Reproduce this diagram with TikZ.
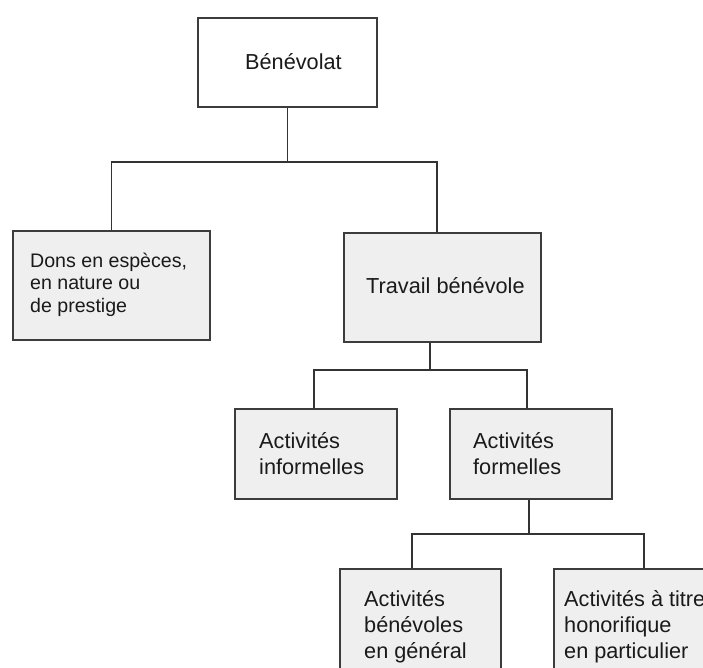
\documentclass[tikz,border=0pt]{standalone}
\usepackage{fontspec}
\setmainfont{Liberation Sans}
\definecolor{boxline}{HTML}{3C3C3C}
\definecolor{boxfill}{HTML}{EFEFEF}
\definecolor{wirecol}{HTML}{333333}
\definecolor{inkcol}{HTML}{1A1A1A}
\newcommand\boxtext[1]{\parbox[t]{220pt}{\raggedright #1}}
\tikzset{
  box/.style={draw=boxline, line width=1.5pt, fill=boxfill, inner sep=0pt, rectangle},
  topbox/.style={box, fill=white},
  wire/.style={draw=wirecol, line width=1.5pt},
  txt/.style={anchor=base west, inner sep=0pt, text=inkcol, font=\fontsize{21.7}{26}\selectfont},
  smalltxt/.style={anchor=base west, inner sep=0pt, text=inkcol, font=\fontsize{19.6}{22.7}\selectfont},
}
\begin{document}
\begin{tikzpicture}[x=1pt,y=-1pt]
\useasboundingbox (0,0) rectangle (703,668);
\clip (0,0) rectangle (703,668);
\fill[white] (0,0) rectangle (703,668);
% boxes
\node[topbox, minimum width=179pt, minimum height=89pt] (ben) at (287.5,62.5) {};
\node[box, minimum width=197pt, minimum height=109pt] (dons) at (111.5,285.5) {};
\node[box, minimum width=197pt, minimum height=109pt] (trav) at (442.5,287.5) {};
\node[box, minimum width=162pt, minimum height=90pt] (inf) at (316,454) {};
\node[box, minimum width=162pt, minimum height=90pt] (form) at (531,454) {};
\node[box, minimum width=161pt, minimum height=131pt] (gen) at (420.5,634.5) {};
\node[box, minimum width=161pt, minimum height=131pt] (hon) at (634.5,634.5) {};
% texts
\node[txt] (tben) at (245,70) {Bénévolat};
\node[smalltxt] (tdons) at (30,267) {\boxtext{Dons en espèces,\\en nature ou\\de prestige}};
\node[txt] (ttrav) at (366,293) {Travail bénévole};
\node[txt] (tinf) at (259,448) {\boxtext{Activités\\informelles}};
\node[txt] (tform) at (473,448) {\boxtext{Activités\\formelles}};
\node[txt] (tgen) at (364,606) {\boxtext{Activités\\bénévoles\\en général}};
\node[txt] (thon) at (564,606) {\boxtext{Activités à titre\\honorifique\\en particulier}};
% connectors
\coordinate (bus1) at (287.5,162);
\coordinate (bus2) at (430,370);
\coordinate (bus3) at (529,534);
\draw[wire] (ben.south) -- (bus1);
\draw[wire] (dons.north) |- (bus1) -| ([xshift=-5.5pt]trav.north);
\draw[wire] (trav.south -| bus2) -- (bus2);
\draw[wire] ([xshift=-2pt]inf.north) |- (bus2) -| ([xshift=-4pt]form.north);
\draw[wire] (form.south -| bus3) -- (bus3);
\draw[wire] ([xshift=-8.5pt]gen.north) |- (bus3) -| ([xshift=9.5pt]hon.north);
\end{tikzpicture}
\end{document}
